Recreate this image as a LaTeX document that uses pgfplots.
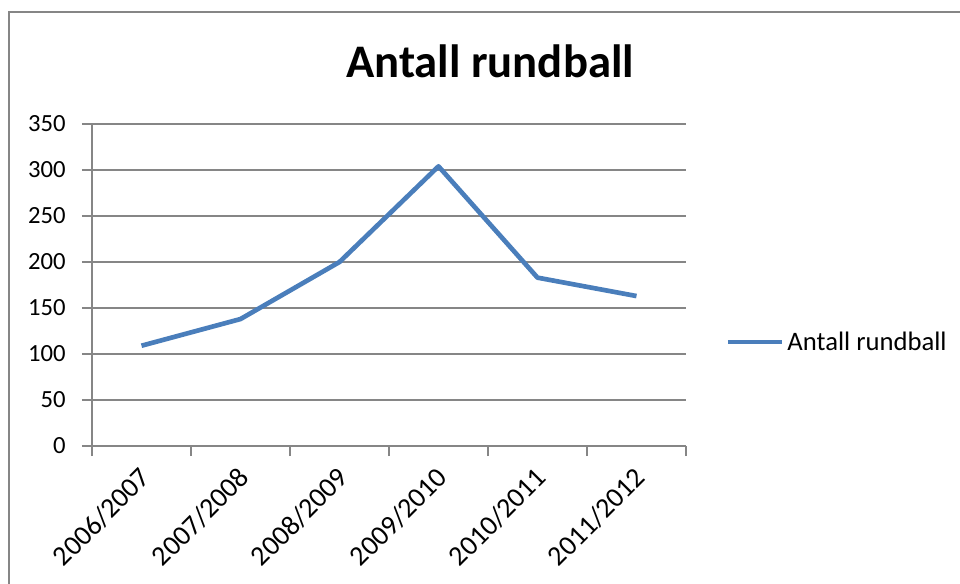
\documentclass[border=0pt]{standalone}
\usepackage{pgfplots}
\pgfplotsset{compat=1.18}
\usepackage{fontspec}
\setmainfont{Carlito}
\definecolor{exblue}{HTML}{4A7EBB}
\definecolor{exgray}{HTML}{868686}
\begin{document}
\begin{tikzpicture}
\useasboundingbox (0,0) rectangle (720pt,437.25pt);
\draw[exgray, line width=1.3pt] (6.75pt,-2pt) -- (6.75pt,428.25pt) -- (722pt,428.25pt);
\node[anchor=base, font=\fontsize{35}{40}\selectfont\bfseries] at (367.5pt,378.75pt) {Antall rundball};
\begin{axis}[
  at={(69pt,102.75pt)}, anchor=south west,
  scale only axis, width=445.5pt, height=241.5pt,
  xmin=-0.5, xmax=5.5, ymin=0, ymax=350,
  axis x line*=bottom, axis y line*=left,
  axis line style={exgray, line width=0.8pt},
  ytick={0,50,...,350},
  ymajorgrids, grid style={exgray, line width=0.8pt},
  xtick={0,...,5},
  xticklabels={2006/2007,2007/2008,2008/2009,2009/2010,2010/2011,2011/2012},
  minor xtick={-0.5,0.5,...,5.5},
  major x tick style={draw=none},
  minor x tick style={exgray, line width=0.8pt},
  y tick style={exgray, line width=0.8pt},
  tick align=outside,
  major tick length=7.5pt, minor tick length=7.5pt,
  /pgf/number format/assume math mode=true,
  yticklabel={\fontsize{18.5}{20}\selectfont\pgfmathprintnumber{\tick}},
  yticklabel style={inner sep=0pt, xshift=-12pt},
  xticklabel style={font=\fontsize{21}{24}\selectfont, xshift=-2.5pt, yshift=-7pt, rotate=45, anchor=north east, inner sep=0pt},
  legend style={at={(1.066,0.323)}, anchor=west, draw=none, fill=none, inner sep=0pt,
    font=\fontsize{20}{22}\selectfont},
  legend cell align=left,
  legend image code/.code={\draw[#1] (0pt,0pt) -- (41pt,0pt);},
]
\addplot[exblue, line width=3.5pt, line join=round] coordinates {
  (0,109) (1,138) (2,200) (3,304) (4,183) (5,163)
};
\addlegendentry{Antall rundball}
\end{axis}
\end{tikzpicture}
\end{document}
